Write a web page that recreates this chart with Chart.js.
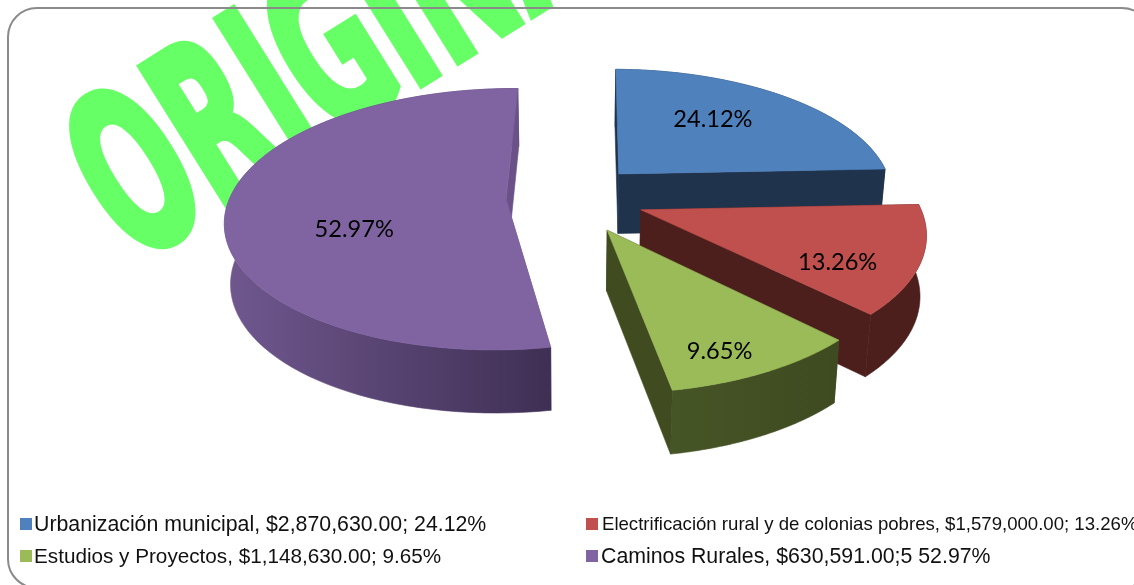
<!DOCTYPE html>
<html>
<head>
<meta charset="utf-8">
<title>Inversion</title>
<script src="https://cdn.jsdelivr.net/npm/chart.js@4"></script>
<style>
  html, body { margin: 0; padding: 0; background: #fff; overflow: hidden; }
  #page { position: relative; width: 1134px; height: 585px; overflow: hidden; }
  #stamp {
    position: absolute; left: 152px; top: 70px; margin: 0;
    font: bold 224px/1 "DejaVu Sans", sans-serif; color: #66ff66;
    -webkit-text-stroke: 8px #66ff66; white-space: nowrap;
    transform-origin: 0 100%; transform: rotate(-32deg) scaleX(0.52);
  }
  #frame {
    position: absolute; left: 7px; top: 7px; width: 1141px; height: 578px;
    border: 2px solid #8a8a8a; border-radius: 30px;
  }
  canvas { position: absolute; left: 0; top: 0; }
  .key {
    position: absolute; color: #111; white-space: nowrap;
    font-family: "Liberation Sans", Arial, sans-serif;
  }
  .key i { position: absolute; width: 12px; height: 12px; }
</style>
</head>
<body>
<div id="page">
  <div id="stamp">ORIGINAL</div>
  <div id="frame"></div>
  <canvas id="pie" width="1134" height="585"></canvas>
</div>
<script>
const categories = ["Urbanización municipal", "Electrificación rural y de colonias pobres", "Estudios y Proyectos", "Caminos Rurales"];
const amounts = ["$2,870,630.00;", "$1,579,000.00;", "$1,148,630.00;", "$630,591.00;5"];
const percents = [24.12, 13.26, 9.65, 52.97];
const colors = ["#4f81bd", "#c0504d", "#9bbb59", "#8064a2"];

// 3d look, the pie is tipped back and each slice pulled out from the middle
const explode = [72, 75, 78, 64];
const wallLeft = ["#1f334d", "#4c1e1c", "#465526", "#70588f"];
const wallRight = ["#1f334d", "#4c1e1c", "#3e4a20", "#3f2f54"];
const edgeColor = ["#1f334d", "#4c1e1c", "#404c20", "#6a5288"];
const labelRadius = [171, 207, 233, 157];
const labelTurn = [-5.4, 9, 4.4, -19];

const tilt = 0.46;
const persp = 0.00055;

function project(cx, cy, u, v, low) {
  const f = 1 / (1 - persp * v);
  let x = cx + u * f;
  let y = cy + tilt * v * f;
  if (low) {
    x = cx + (x - cx) * 0.982;
    y = y + 60 + 0.02 * (y - cy);
  }
  return [x, y];
}

function fillPoly(ctx, pts, fill) {
  ctx.beginPath();
  pts.forEach((p, i) => (i ? ctx.lineTo(p[0], p[1]) : ctx.moveTo(p[0], p[1])));
  ctx.closePath();
  ctx.fillStyle = fill;
  ctx.fill();
  // hides the hairline between neighbouring faces
  ctx.strokeStyle = fill;
  ctx.lineWidth = 0.6;
  ctx.stroke();
}

const pie3d = {
  id: "pie3d",
  beforeDatasetDraw(chart) {
    const ctx = chart.ctx;
    const arcs = chart.getDatasetMeta(0).data;

    arcs.forEach((arc, i) => {
      const mid = (arc.startAngle + arc.endAngle) / 2;
      const du = Math.cos(mid) * explode[i];
      const dv = Math.sin(mid) * explode[i];
      const top = [];
      const low = [];
      for (let s = 0; s <= 80; s++) {
        const a = arc.startAngle + ((arc.endAngle - arc.startAngle) * s) / 80;
        const u = du + Math.cos(a) * arc.outerRadius;
        const v = dv + Math.sin(a) * arc.outerRadius;
        top.push(project(arc.x, arc.y, u, v, false));
        low.push(project(arc.x, arc.y, u, v, true));
      }
      const apexTop = project(arc.x, arc.y, du, dv, false);
      const apexLow = project(arc.x, arc.y, du, dv, true);

      fillPoly(ctx, [top[0], apexTop, apexLow, low[0]], edgeColor[i]);

      const xs = top.map((p) => p[0]);
      const grad = ctx.createLinearGradient(Math.min(...xs), 0, Math.max(...xs), 0);
      grad.addColorStop(0, wallLeft[i]);
      grad.addColorStop(1, wallRight[i]);
      fillPoly(ctx, top.concat(low.slice().reverse()), grad);

      fillPoly(ctx, [top[80], apexTop, apexLow, low[80]], edgeColor[i]);
      fillPoly(ctx, [apexTop].concat(top), arc.options.backgroundColor);
    });

    ctx.fillStyle = "#000";
    ctx.font = "23.6px Lato, sans-serif";
    ctx.textAlign = "center";
    ctx.textBaseline = "middle";
    arcs.forEach((arc, i) => {
      const mid = (arc.startAngle + arc.endAngle) / 2;
      const turned = mid + (labelTurn[i] * Math.PI) / 180;
      const u = Math.cos(mid) * explode[i] + Math.cos(turned) * labelRadius[i];
      const v = Math.sin(mid) * explode[i] + Math.sin(turned) * labelRadius[i];
      const p = project(arc.x, arc.y, u, v, false);
      ctx.fillText(percents[i].toFixed(2) + "%", p[0], p[1]);
    });
    return false;
  },
};

new Chart(document.getElementById("pie").getContext("2d"), {
  type: "pie",
  data: {
    labels: categories,
    datasets: [{ data: percents, backgroundColor: colors, borderWidth: 0 }],
  },
  options: {
    responsive: false,
    animation: false,
    rotation: 0.8,
    radius: 276,
    layout: { padding: { left: 6, bottom: 191 } },
    plugins: { legend: { display: false }, tooltip: { enabled: false } },
  },
  plugins: [pie3d],
});

// legend, two columns, every line has its own size like the original
const keyX = [20, 586, 20, 586];
const keyY = [524, 524, 556, 556];
const keySize = [21.3, 18.6, 20.7, 21.3];
const keyGap = [14, 16, 14, 15];
categories.forEach((name, i) => {
  const el = document.createElement("div");
  el.className = "key";
  el.style.left = keyX[i] + keyGap[i] + "px";
  el.style.top = keyY[i] - 12 + "px";
  el.style.lineHeight = "24px";
  el.style.fontSize = keySize[i] + "px";
  el.textContent = name + ", " + amounts[i] + " " + percents[i].toFixed(2) + "%";
  const box = document.createElement("i");
  box.style.left = -keyGap[i] + "px";
  box.style.top = "6px";
  box.style.background = colors[i];
  el.appendChild(box);
  document.getElementById("page").appendChild(el);
});
</script>
</body>
</html>
